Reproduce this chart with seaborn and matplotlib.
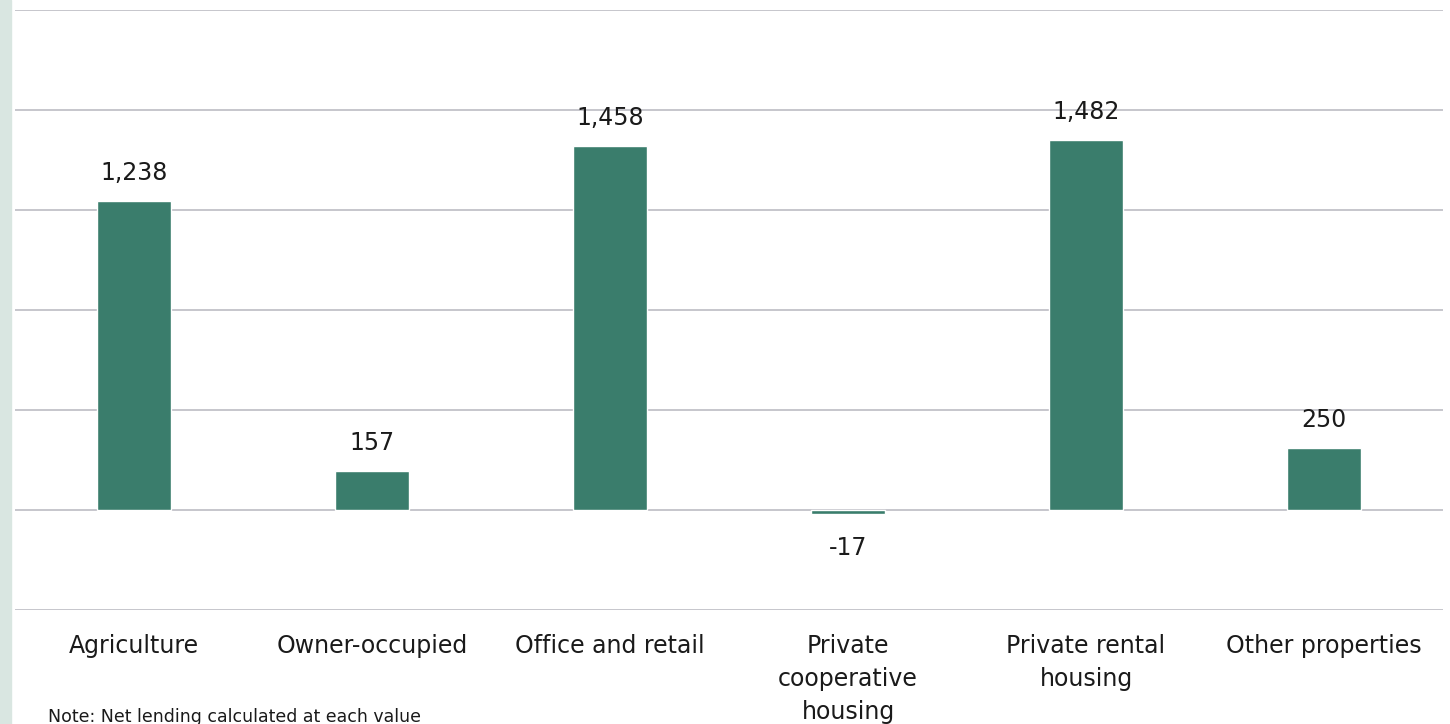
import matplotlib
matplotlib.use("Agg")
import matplotlib.pyplot as plt
import seaborn as sns
import pandas as pd

categories = ["Agriculture", "Owner-occupied", "Office and retail",
              "Private\ncooperative\nhousing", "Private rental\nhousing", "Other properties"]
values = [1238, 157, 1458, -17, 1482, 250]
value_labels = ["1,238", "157", "1,458", "-17", "1,482", "250"]
yticks = [-400, 0, 400, 800, 1200, 1600, 2000]
note = "Note: Net lending calculated at each value"

sns.set_theme(style="white")
plt.rcParams['font.family'] = ['DejaVu Sans']

W, H = 1450, 724
fig = plt.figure(figsize=(W/100, H/100), dpi=100)
fig.patches.append(plt.Rectangle((0, 0), 11/W, 1, transform=fig.transFigure,
                                 color="#D9E6E1", zorder=0))
ax = fig.add_axes([15/W, 1-610/H, (1443-15)/W, 600/H])

df = pd.DataFrame({"cat": categories, "val": values})
sns.barplot(data=df, x="cat", y="val", color="#3A7D6C", saturation=1,
            width=0.315, ax=ax, zorder=3)

ax.set_ylim(-400, 2000)
ax.set_yticks(yticks)
ax.yaxis.grid(True, color="#C6C6CC", linewidth=1.4, zorder=0)
ax.set_yticklabels([])
ax.tick_params(axis="y", length=0)
ax.tick_params(axis="x", length=0, pad=17, labelsize=17, labelcolor="#1a1a1a")
for s in ax.spines.values():
    s.set_visible(False)
ax.set_xlabel("")
ax.set_ylabel("")
for lbl in ax.get_xticklabels():
    lbl.set_linespacing(1.48)

for i, (v, t) in enumerate(zip(values, value_labels)):
    if v >= 0:
        ax.annotate(t, (i, v), xytext=(0, 11), textcoords="offset points",
                    ha="center", va="bottom", fontsize=17, color="#1a1a1a")
    else:
        ax.annotate(t, (i, v), xytext=(0, -16), textcoords="offset points",
                    ha="center", va="top", fontsize=17, color="#1a1a1a")

fig.text(48/W, 1-708/H, note, ha="left", va="top", fontsize=12.5, color="#1a1a1a")

fig.savefig("out.png", dpi=100)
